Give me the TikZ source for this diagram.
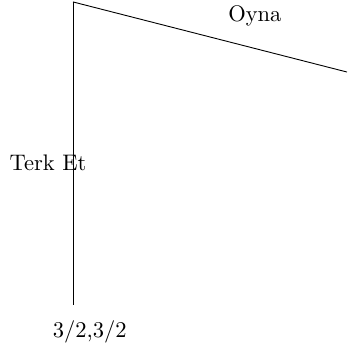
\documentclass[tikz,border=0pt]{standalone}
\usepackage{tikz}
\usetikzlibrary{positioning}

\begin{document}
\begin{tikzpicture}[
  branch/.style={draw=black, line width=0.4pt},
  lbl/.style={inner sep=1pt}
]
  \useasboundingbox (0,0) rectangle (5.42,-5.56);
  \clip (0,0) rectangle (5.42,-5.56);

  \coordinate (root) at (1.14,-0.03);
  \coordinate (quit) at (1.14,-4.76);
  \coordinate (play) at (5.42,-1.125);

  \node[lbl] (payoff) at (1.40,-5.19) {3/2,3/2};
  \node[lbl] (quitlbl) at (0.75,-2.55) {Terk Et};
  \node[lbl] (playlbl) at (3.98,-0.24) {Oyna};

  \draw[branch] (root) -- (quit);
  \draw[branch] (root) -- (play);
\end{tikzpicture}
\end{document}
